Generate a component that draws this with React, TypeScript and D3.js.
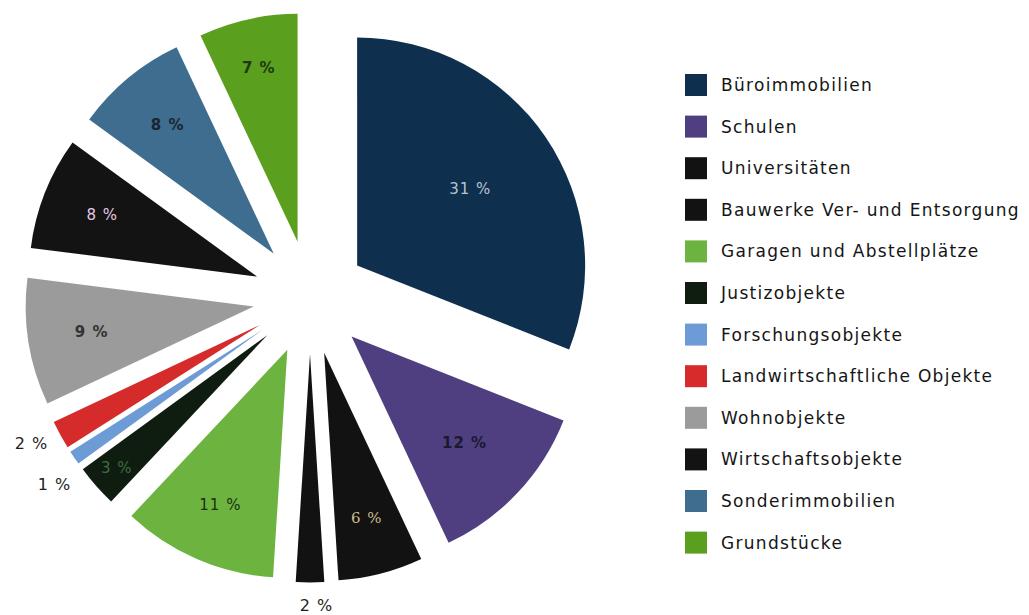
import React from "react";
import * as d3 from "d3";

const categories = [
  "Büroimmobilien",
  "Schulen",
  "Universitäten",
  "Bauwerke Ver- und Entsorgung",
  "Garagen und Abstellplätze",
  "Justizobjekte",
  "Forschungsobjekte",
  "Landwirtschaftliche Objekte",
  "Wohnobjekte",
  "Wirtschaftsobjekte",
  "Sonderimmobilien",
  "Grundstücke",
];
const values = [31, 12, 6, 2, 11, 3, 1, 2, 9, 8, 8, 7];
const percentLabels = ["31 %", "12 %", "6 %", "2 %", "11 %", "3 %", "1 %", "2 %", "9 %", "8 %", "8 %", "7 %"];

const colors = [
  "#0e2f4e",
  "#4f3f80",
  "#121212",
  "#121212",
  "#6db33f",
  "#0f1d10",
  "#6c9bd6",
  "#d52b2b",
  "#9b9b9b",
  "#131313",
  "#3e6d90",
  "#5b9f1f",
];

// label styling (position factor along the slice, angle tweak in degrees, outside flag, colour, weight, family)
const labelStyle: Record<number, { f: number; da?: number; out?: boolean; color: string; weight?: number; family?: string }> = {
  0: { f: 0.6, color: "#b7c3cf" },
  1: { f: 0.68, color: "#1c1830", weight: 700 },
  2: { f: 0.75, color: "#cbbd8c", family: "DejaVu Serif" },
  3: { f: 1.1, da: -1.5, out: true, color: "#1e1e1e" },
  4: { f: 0.74, color: "#1b3010" },
  5: { f: 0.88, color: "#3f6a40" },
  6: { f: 1.14, da: -2.5, out: true, color: "#1e1e1e" },
  7: { f: 1.13, da: 1.3, out: true, color: "#1e1e1e" },
  8: { f: 0.72, color: "#333333", weight: 700 },
  9: { f: 0.73, color: "#e4c9e4" },
  10: { f: 0.73, color: "#1a2530", weight: 700 },
  11: { f: 0.78, color: "#1d3a10", weight: 700 },
};

export default function App() {
  const W = 1029;
  const H = 615;
  const cx = 310;
  const cy = 297.5;
  const R = 228;
  const explode = 57;

  const pie = d3
    .pie<number>()
    .sort(null)
    .value((d) => d)
    .startAngle(0)
    .endAngle(2 * Math.PI);
  const arcs = pie(values);
  const arcGen = d3.arc<d3.PieArcDatum<number>>().innerRadius(0).outerRadius(R);

  return (
    <svg
      width={W}
      height={H}
      style={{ position: "absolute", left: 0, top: 0, background: "#fff" }}
    >
      <rect x={0} y={0} width={W} height={H} fill="#ffffff" />
      <g transform={`translate(${cx},${cy})`}>
        {arcs.map((a, i) => {
          const mid = (a.startAngle + a.endAngle) / 2;
          const dx = Math.sin(mid) * explode;
          const dy = -Math.cos(mid) * explode;
          const st = labelStyle[i];
          const la = mid + ((st.da || 0) * Math.PI) / 180;
          const lx = Math.sin(la) * R * st.f;
          const ly = -Math.cos(la) * R * st.f;
          return (
            <g key={categories[i]} transform={`translate(${dx},${dy})`}>
              <path d={arcGen(a) || ""} fill={colors[i]} />
              <text
                x={lx}
                y={ly}
                textAnchor="middle"
                dominantBaseline="central"
                fontFamily={st.family || "DejaVu Sans"}
                fontSize={st.out ? 16 : 15}
                fontWeight={st.out ? 500 : st.weight || 400}
                letterSpacing={1}
                fill={st.color}
              >
                {percentLabels[i]}
              </text>
            </g>
          );
        })}
      </g>
      <g>
        {categories.map((c, i) => {
          const y = 85 + i * 41.6;
          return (
            <g key={c}>
              <rect x={685} y={y - 11} width={22} height={22} fill={colors[i]} />
              <text
                x={721}
                y={y}
                dominantBaseline="central"
                fontFamily="DejaVu Sans"
                fontSize={17}
                letterSpacing={1.3}
                fill="#151515"
              >
                {c}
              </text>
            </g>
          );
        })}
      </g>
    </svg>
  );
}
